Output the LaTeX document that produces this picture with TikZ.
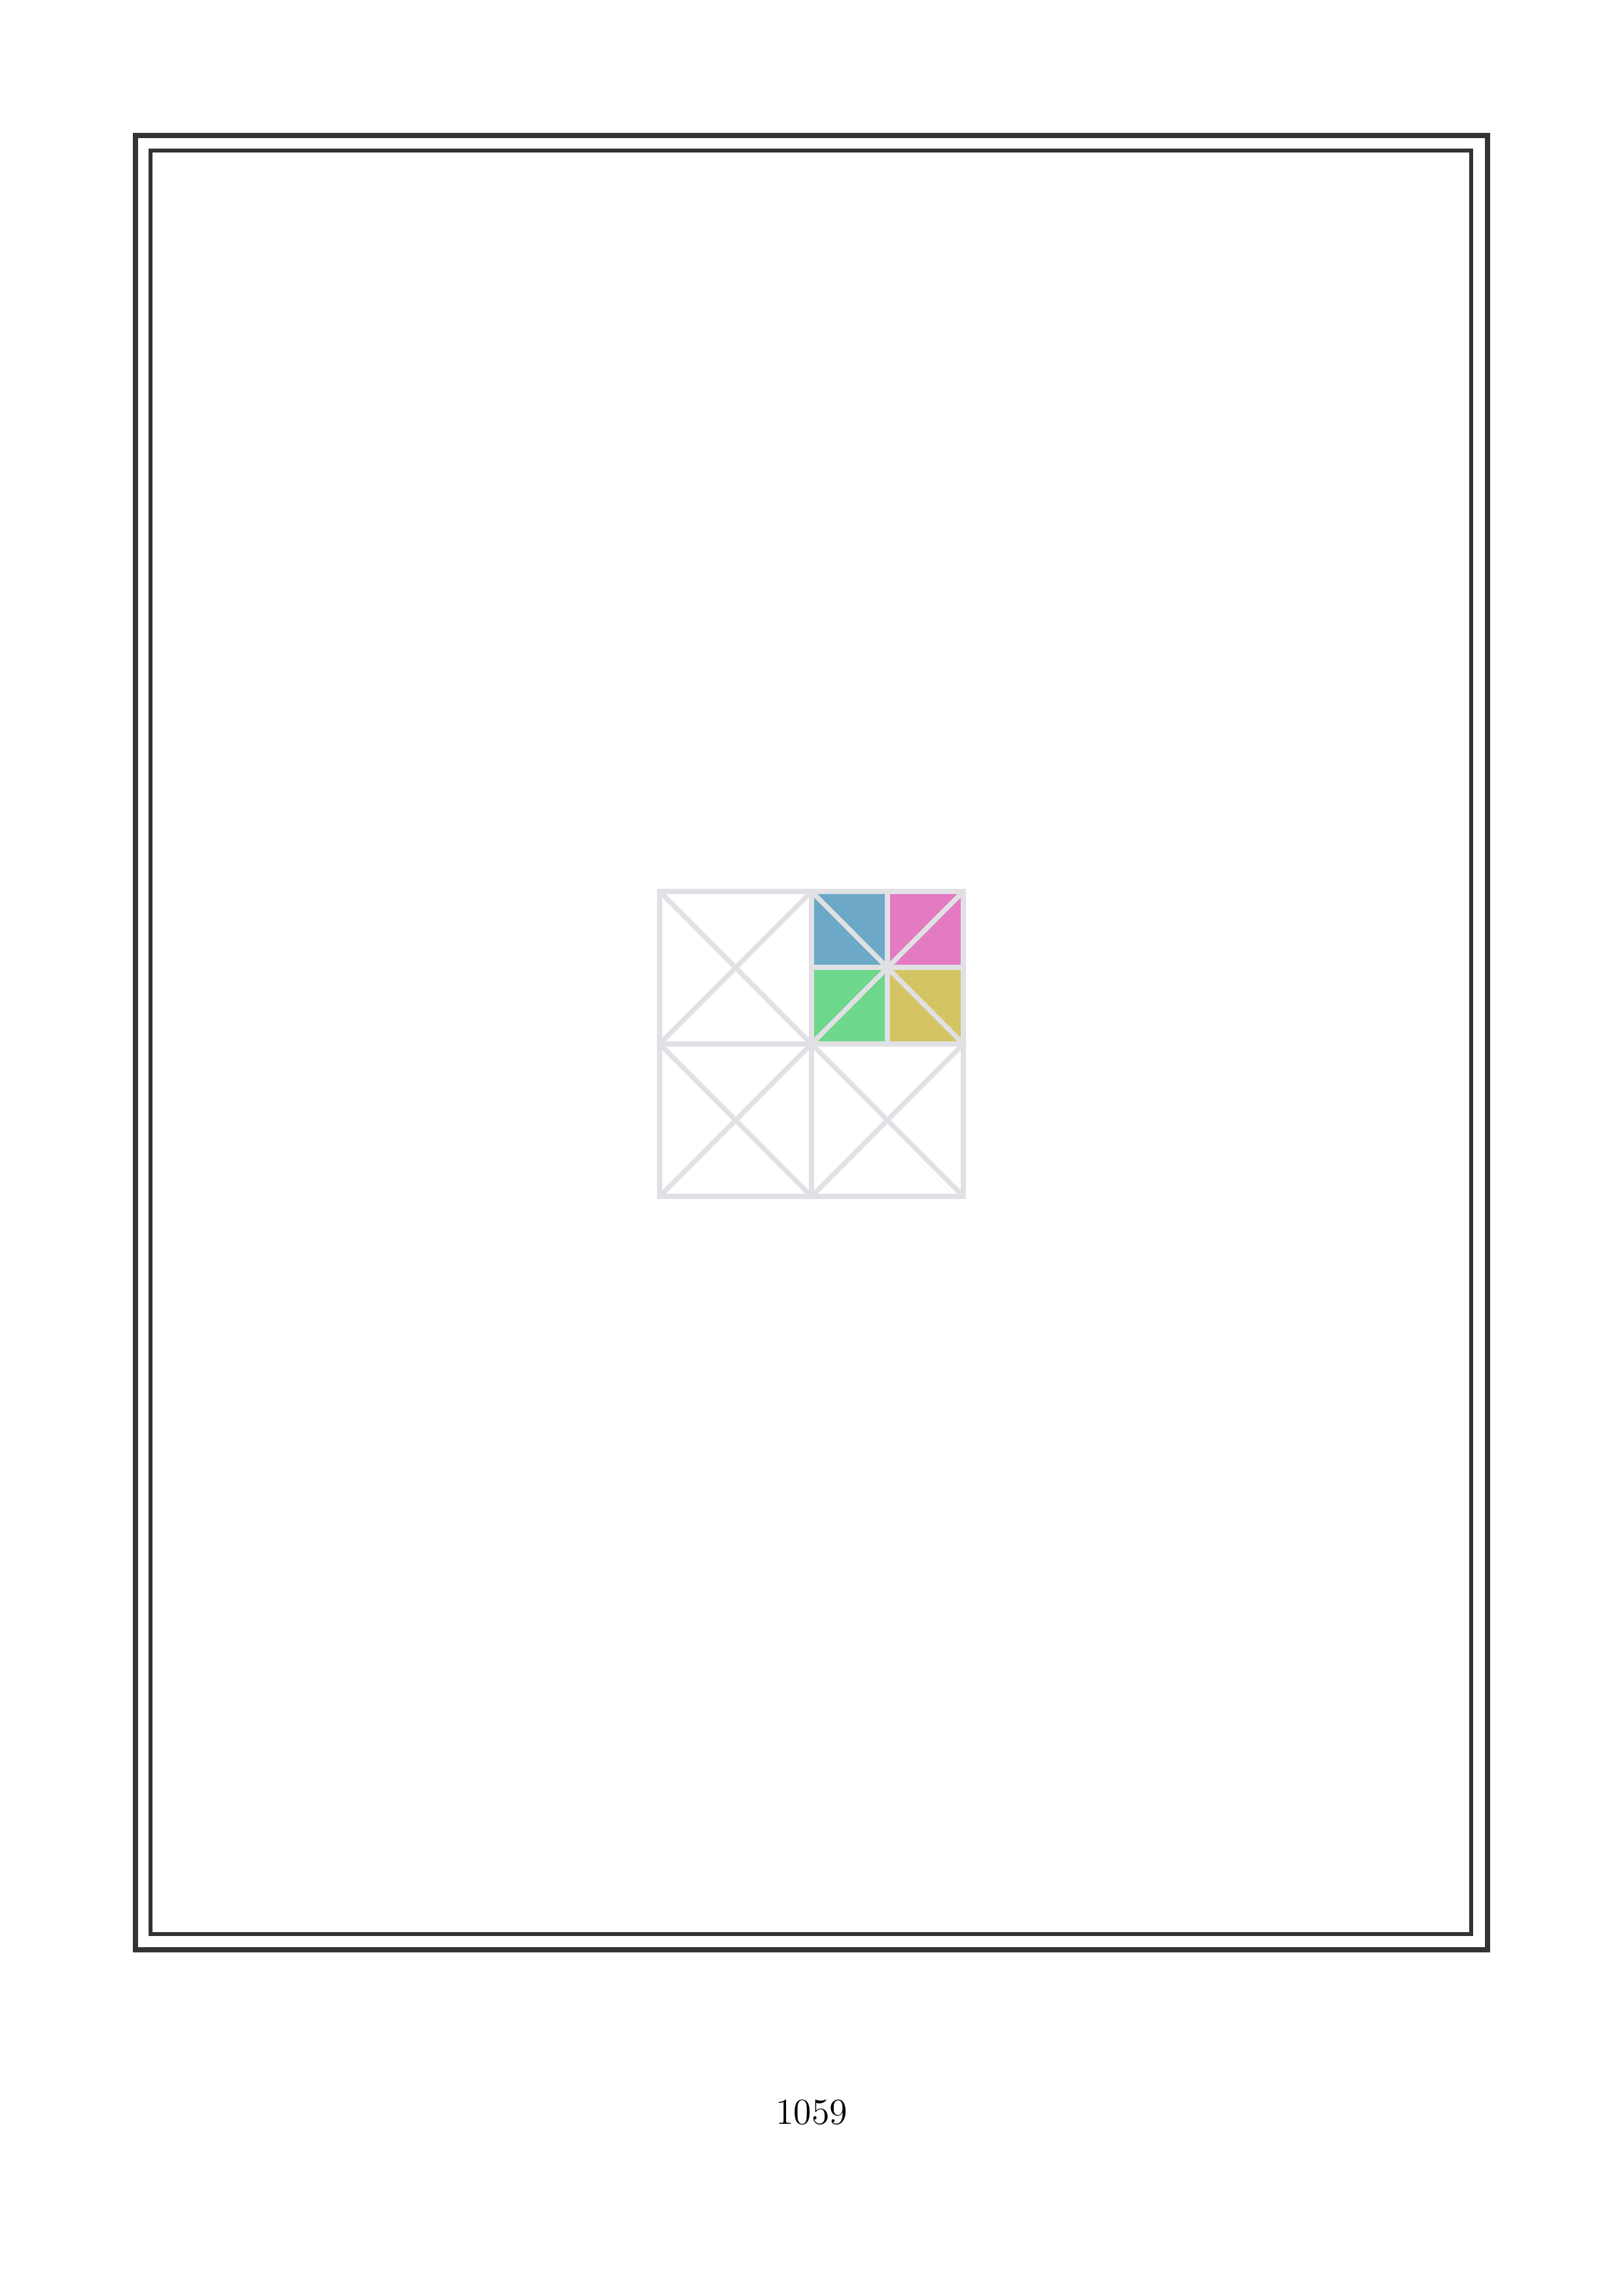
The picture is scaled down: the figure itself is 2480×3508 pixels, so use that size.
\documentclass[tikz,border=0pt]{standalone}
\usepackage{tikz}
\usepackage{xcolor}
\definecolor{gridgray}{HTML}{E1E1E5}
\definecolor{tileblue}{HTML}{6DA9C7}
\definecolor{tilepink}{HTML}{E37AC2}
\definecolor{tilegreen}{HTML}{6DD78B}
\definecolor{tileyellow}{HTML}{D4C463}
\tikzstyle{frameout} = [draw=black!80, 
line width=1.9pt]
\tikzstyle{framein} = [draw=black!80, 
line width=1.4pt]
\tikzstyle{gridline} = [draw=gridgray, 
line width=1.8pt]
\tikzstyle{pagenum} = [anchor=base, 
inner sep=0pt, 
font=\fontsize{13.5}{16}\selectfont]

\begin{document}
\begin{tikzpicture}[x=0.08467mm, y=-0.08467mm]
			
			\useasboundingbox (0,0) rectangle (2480,3508);
			
			% page frame
			\draw [frameout] (207,207) rectangle (2273,2979);
			\draw [framein] (230,230) rectangle (2248,2955);
			
			% corners of the square
			\coordinate (tl) at (1008,1362);
			\coordinate (tr) at (1472,1362);
			\coordinate (bl) at (1008,1828);
			\coordinate (br) at (1472,1828);
			\coordinate (mid) at (1240,1595);
			\coordinate (qc) at (1356,1478);
			
			% coloured quarter
			\fill [tileblue] (1240,1362) rectangle (qc);
			\fill [tilepink] (1356,1362) rectangle (1472,1478);
			\fill [tilegreen] (1240,1478) rectangle (1356,1595);
			\fill [tileyellow] (qc) rectangle (1472,1595);
			
			% grid
			\draw [gridline] (tl) rectangle (br);
			\draw [gridline] (1240,1362) -- (1240,1828);
			\draw [gridline] (1008,1595) -- (1472,1595);
			\draw [gridline] (1356,1362) -- (1356,1595);
			\draw [gridline] (1240,1478) -- (1472,1478);
			
			% diagonals
			\draw [gridline] (tl) -- (br);
			\draw [gridline] (tr) -- (bl);
			\draw [gridline] (1240,1362) -- (1472,1595) -- (1240,1828) -- (1008,1595) -- cycle;
			
			\node (num) [pagenum] at (1240,3245) {1059};
			
\end{tikzpicture}
\end{document}
